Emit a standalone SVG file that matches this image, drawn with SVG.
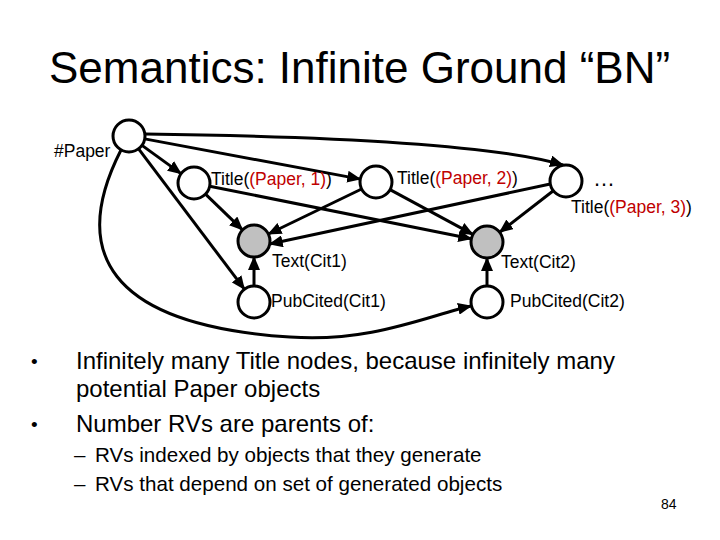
<svg xmlns="http://www.w3.org/2000/svg" width="720" height="540" viewBox="0 0 720 540">
<style>
text{font-family:"Liberation Sans",Arial,sans-serif;fill:#000}
.lbl{font-size:17.5px}
.red{fill:#c00000}
.node{fill:#fff;stroke:#000;stroke-width:3}
.obs{fill:#c0c0c0;stroke:#000;stroke-width:3}
.edge{fill:none;stroke:#000;stroke-width:3;marker-end:url(#ah)}
.b1{font-size:24px}
.b2{font-size:20.6px}
.dot{font-size:19px}
</style>
<defs>
<marker id="ah" markerUnits="userSpaceOnUse" markerWidth="14" markerHeight="12" viewBox="0 0 14 12" refX="13" refY="6" orient="auto">
<path d="M0,0 L14,6 L0,12 z" fill="#000"/>
</marker>
</defs>
<rect width="720" height="540" fill="#fff"/>
<text x="49" y="83" font-size="44">Semantics: Infinite Ground “BN”</text>
<g id="connectors">
<line class="edge" x1="142" y1="145.4" x2="181" y2="173.6"/>
<line class="edge" x1="144.7" y1="138.9" x2="360.3" y2="179.1"/>
<path class="edge" d="M145,134 Q470,138 563,165"/>
<line class="edge" x1="138.6" y1="148.8" x2="244.4" y2="289.2"/>
<path class="edge" d="M121,150 C70,250 105,325 290,337 C370,343 430,315 471,306"/>
<line class="edge" x1="205.5" y1="194.1" x2="242.5" y2="229.9"/>
<line class="edge" x1="209.7" y1="186.2" x2="471.3" y2="238.8"/>
<line class="edge" x1="361.6" y1="189" x2="268.4" y2="234"/>
<line class="edge" x1="390" y1="189.6" x2="472.9" y2="234.4"/>
<line class="edge" x1="550.3" y1="184" x2="269.7" y2="244"/>
<line class="edge" x1="553.3" y1="190.8" x2="499.7" y2="232.2"/>
<line class="edge" x1="254" y1="286" x2="254" y2="257"/>
<line class="edge" x1="487" y1="286" x2="487" y2="258"/>
</g>
<g id="paper">
<circle class="node" cx="129" cy="136" r="16"/>
<text class="lbl" x="54" y="157">#Paper</text>
</g>
<g id="title1">
<circle class="node" cx="194" cy="183" r="16"/>
<text class="lbl" x="211" y="185">Title(<tspan class="red">(Paper, 1)</tspan>)</text>
</g>
<g id="title2">
<circle class="node" cx="376" cy="182" r="16"/>
<text class="lbl" x="397" y="184">Title(<tspan class="red">(Paper, 2)</tspan>)</text>
</g>
<g id="title3">
<circle class="node" cx="566" cy="181" r="16"/>
<text x="593" y="186" font-size="22">…</text>
<text class="lbl" x="571" y="213">Title(<tspan class="red">(Paper, 3)</tspan>)</text>
</g>
<g id="text1">
<circle class="obs" cx="254" cy="241" r="16"/>
<text class="lbl" x="272" y="267">Text(Cit1)</text>
</g>
<g id="pub1">
<circle class="node" cx="254" cy="302" r="16"/>
<text class="lbl" x="271" y="307">PubCited(Cit1)</text>
</g>
<g id="text2">
<circle class="obs" cx="487" cy="242" r="16"/>
<text class="lbl" x="501" y="268">Text(Cit2)</text>
</g>
<g id="pub2">
<circle class="node" cx="487" cy="302" r="16"/>
<text class="lbl" x="510" y="307">PubCited(Cit2)</text>
</g>
<g id="bullets">
<text class="dot" x="31" y="368">•</text>
<text class="b1" x="76" y="369">Infinitely many Title nodes, because infinitely many</text>
<text class="b1" x="76" y="397">potential Paper objects</text>
<text class="dot" x="31" y="431">•</text>
<text class="b1" x="76" y="432">Number RVs are parents of:</text>
<text class="b2" x="74" y="462">–</text>
<text class="b2" x="95" y="462">RVs indexed by objects that they generate</text>
<text class="b2" x="74" y="491">–</text>
<text class="b2" x="95" y="491">RVs that depend on set of generated objects</text>
</g>
<text x="661" y="509" font-size="14">84</text>
</svg>
